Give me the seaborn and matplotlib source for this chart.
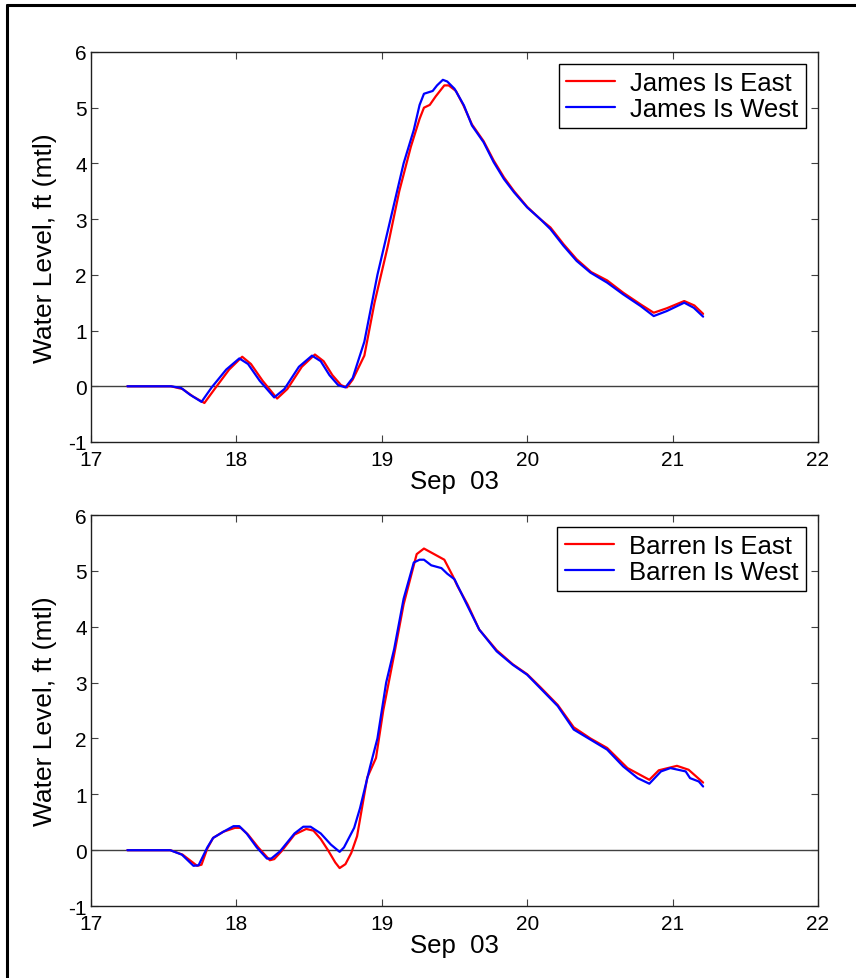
import pandas as pd
import seaborn as sns
import matplotlib.pyplot as plt
from matplotlib.lines import Line2D

# James Island gauges (top panel)
james_east_day = [17.25, 17.55, 17.63, 17.70, 17.78, 17.85, 17.95, 18.04, 18.10, 18.18,
                  18.28, 18.35, 18.45, 18.54, 18.60, 18.66, 18.72, 18.76, 18.80, 18.88,
                  18.95, 19.04, 19.12, 19.20, 19.26, 19.29, 19.33, 19.37, 19.43, 19.46,
                  19.51, 19.56, 19.62, 19.70, 19.77, 19.84, 19.91, 20.00, 20.09, 20.16,
                  20.25, 20.34, 20.44, 20.55, 20.66, 20.78, 20.87, 20.96, 21.08, 21.15, 21.21]
james_east_level = [0, 0, -0.05, -0.18, -0.3, -0.05, 0.3, 0.53, 0.4, 0.1,
                    -0.22, -0.05, 0.35, 0.57, 0.45, 0.2, 0.02, -0.02, 0.12, 0.55,
                    1.5, 2.5, 3.5, 4.3, 4.8, 5.0, 5.05, 5.2, 5.4, 5.4,
                    5.3, 5.05, 4.7, 4.4, 4.05, 3.75, 3.5, 3.22, 3.0, 2.85,
                    2.55, 2.28, 2.05, 1.9, 1.68, 1.47, 1.32, 1.4, 1.53, 1.45, 1.3]
james_west_day = [17.25, 17.55, 17.62, 17.68, 17.76, 17.83, 17.93, 18.02, 18.08, 18.16,
                  18.26, 18.33, 18.43, 18.52, 18.58, 18.64, 18.70, 18.75, 18.80, 18.88,
                  18.97, 19.06, 19.15, 19.22, 19.26, 19.29, 19.35, 19.38, 19.42, 19.45,
                  19.50, 19.565, 19.62, 19.70, 19.77, 19.84, 19.91, 20.00, 20.09, 20.16,
                  20.25, 20.34, 20.435, 20.55, 20.66, 20.78, 20.87, 20.96, 21.08, 21.145, 21.21]
james_west_level = [0, 0, -0.03, -0.15, -0.28, -0.02, 0.3, 0.5, 0.4, 0.1,
                    -0.2, -0.05, 0.35, 0.55, 0.45, 0.2, 0.02, -0.02, 0.15, 0.8,
                    2.0, 3.0, 4.0, 4.6, 5.05, 5.25, 5.3, 5.4, 5.5, 5.47,
                    5.34, 5.04, 4.68, 4.38, 4.02, 3.72, 3.48, 3.21, 3.0, 2.82,
                    2.52, 2.25, 2.04, 1.86, 1.65, 1.44, 1.26, 1.35, 1.5, 1.41, 1.25]

# Barren Island gauges (bottom panel)
barren_east_day = [17.25, 17.545, 17.63, 17.73, 17.76, 17.80, 17.84, 17.91, 17.99, 18.03,
                   18.08, 18.15, 18.23, 18.26, 18.31, 18.40, 18.48, 18.53, 18.58, 18.63,
                   18.68, 18.71, 18.75, 18.79, 18.83, 18.90, 18.96, 19.01, 19.085, 19.15,
                   19.22, 19.24, 19.29, 19.36, 19.43, 19.49, 19.52, 19.59, 19.67, 19.79,
                   19.90, 20.00, 20.09, 20.21, 20.32, 20.435, 20.55, 20.69, 20.84, 20.905,
                   21.03, 21.11, 21.21]
barren_east_level = [0, 0, -0.08, -0.28, -0.26, 0.03, 0.22, 0.33, 0.4, 0.4,
                     0.28, 0.05, -0.18, -0.16, -0.02, 0.28, 0.38, 0.35, 0.2, 0.0,
                     -0.22, -0.32, -0.25, -0.05, 0.25, 1.3, 1.65, 2.5, 3.5, 4.4,
                     5.1, 5.3, 5.4, 5.3, 5.2, 4.9, 4.73, 4.4, 3.95, 3.58,
                     3.33, 3.15, 2.92, 2.6, 2.2, 2.0, 1.83, 1.47, 1.26, 1.43,
                     1.51, 1.44, 1.21]
barren_west_day = [17.25, 17.545, 17.625, 17.705, 17.74, 17.80, 17.84, 17.91, 17.98, 18.02,
                   18.07, 18.14, 18.21, 18.24, 18.30, 18.40, 18.46, 18.51, 18.58, 18.65,
                   18.71, 18.74, 18.81, 18.85, 18.92, 18.97, 19.03, 19.085, 19.15, 19.22,
                   19.26, 19.29, 19.34, 19.41, 19.45, 19.50, 19.59, 19.67, 19.79, 19.90,
                   20.00, 20.09, 20.21, 20.32, 20.435, 20.55, 20.66, 20.76, 20.84, 20.92,
                   20.985, 21.09, 21.12, 21.18, 21.21]
barren_west_level = [0, 0, -0.08, -0.28, -0.27, 0.05, 0.22, 0.33, 0.43, 0.43,
                     0.3, 0.05, -0.15, -0.15, -0.02, 0.3, 0.42, 0.42, 0.3, 0.1,
                     -0.03, 0.05, 0.4, 0.75, 1.5, 2.0, 3.0, 3.6, 4.5, 5.15,
                     5.2, 5.2, 5.1, 5.05, 4.95, 4.85, 4.37, 3.95, 3.56, 3.32,
                     3.14, 2.9, 2.58, 2.16, 1.98, 1.8, 1.5, 1.29, 1.19, 1.41,
                     1.47, 1.41, 1.29, 1.23, 1.14]

x_ticks = [17, 18, 19, 20, 21, 22]
y_ticks = [-1, 0, 1, 2, 3, 4, 5, 6]


def station_frame(series):
    parts = []
    for name, days, levels in series:
        parts.append(pd.DataFrame({"day": days, "level": levels, "station": name}))
    return pd.concat(parts, ignore_index=True)


sns.set_style("ticks")
plt.rcParams["font.family"] = ["Liberation Sans", "DejaVu Sans"]
plt.rcParams["xtick.direction"] = "in"
plt.rcParams["ytick.direction"] = "in"
plt.rcParams["axes.unicode_minus"] = False
for key in ["text.color", "axes.labelcolor", "xtick.labelcolor", "ytick.labelcolor"]:
    plt.rcParams[key] = "black"

fig = plt.figure(figsize=(8.56, 9.79), dpi=100)
ax_top = fig.add_axes([0.1063, 0.5475, 0.8493, 0.3984])
ax_bot = fig.add_axes([0.1063, 0.0735, 0.8493, 0.3994])

panels = [
    (ax_top, [("James Is East", james_east_day, james_east_level),
              ("James Is West", james_west_day, james_west_level)]),
    (ax_bot, [("Barren Is East", barren_east_day, barren_east_level),
              ("Barren Is West", barren_west_day, barren_west_level)]),
]

for ax, series in panels:
    df = station_frame(series)
    ax.axhline(0, color="#404040", linewidth=1.0, zorder=1)
    sns.lineplot(data=df, x="day", y="level", hue="station", palette=["red", "blue"],
                 estimator=None, sort=False, linewidth=1.6, ax=ax)
    ax.set_xlim(17, 22)
    ax.set_ylim(-1, 6)
    ax.set_xticks(x_ticks)
    ax.set_yticks(y_ticks)
    ax.tick_params(axis="both", which="both", top=True, right=True, labelsize=15,
                   length=5, width=0.8, color="#404040", labelcolor="black", pad=3)
    ax.tick_params(axis="x", pad=6)
    for sp in ax.spines.values():
        sp.set_visible(True)
        sp.set_color("#202020")
        sp.set_linewidth(1.0)
    ax.set_xlabel("Sep  03", fontsize=18.5, labelpad=0, color="black")
    ax.set_ylabel("Water Level, ft (mtl)", fontsize=19, labelpad=8, color="black")
    handles, labels = ax.get_legend_handles_labels()
    leg = ax.legend(handles, labels, loc="upper right", fontsize=18.5, frameon=True,
                    fancybox=False, edgecolor="black", framealpha=1,
                    handlelength=1.9, handletextpad=0.6, labelspacing=0.05,
                    borderpad=0.3, borderaxespad=0.45, labelcolor="black")
    leg.get_frame().set_linewidth(1.0)

# page border (top and left edges)
fig.add_artist(Line2D([0.0082, 1.0], [0.9939, 0.9939], transform=fig.transFigure,
                      color="black", linewidth=2.2))
fig.add_artist(Line2D([0.0082, 0.0082], [0.0, 0.9939], transform=fig.transFigure,
                      color="black", linewidth=2.2))

fig.savefig("out.png", dpi=100)
